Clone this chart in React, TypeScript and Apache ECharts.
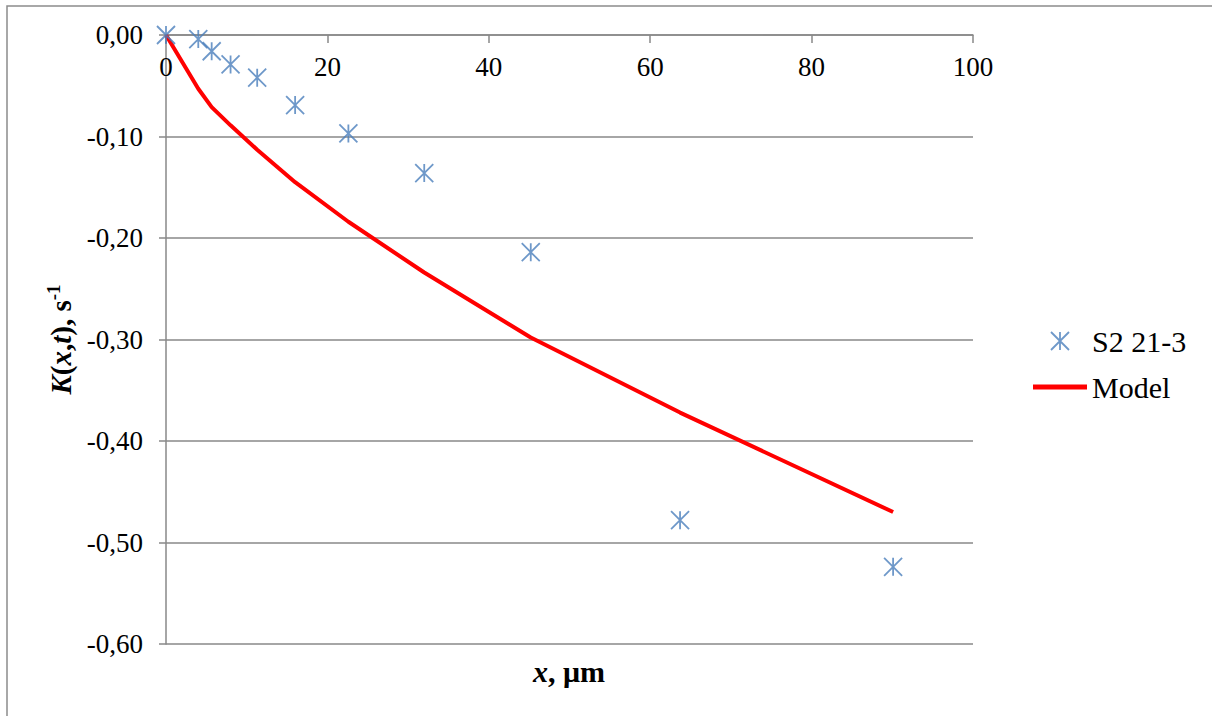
import React, { useEffect, useRef } from "react";
import * as echarts from "echarts";

const xValues = [0, 4, 5.66, 8, 11.3, 16, 22.6, 32, 45.2, 63.7, 90.1];
const measured = [0, -0.004, -0.016, -0.029, -0.042, -0.069, -0.097, -0.136, -0.214, -0.478, -0.524];
const model = [0, -0.053, -0.071, -0.089, -0.113, -0.145, -0.184, -0.234, -0.298, -0.372, -0.47];
const seriesNames = ["S2 21-3", "Model"];
const xTicks = { min: 0, max: 100, interval: 20 };
const yTicks = { min: -0.6, max: 0, interval: 0.1 };

const STAR = "path://M0,0 L18,18 M0,18 L18,0 M9,0 L9,18";
const LINE_ICON = "path://M0,0 L54,0 L54,5 L0,5 Z";
const FONT = "'Liberation Serif', 'Times New Roman', serif";

export default function App() {
  const ref = useRef<HTMLDivElement>(null);
  useEffect(() => {
    if (!ref.current) return;
    const chart = echarts.init(ref.current, null, { renderer: "svg" });
    const blue = "#4A7EBB";
    chart.setOption({
      animation: false,
      backgroundColor: "#fff",
      textStyle: { fontFamily: FONT },
      grid: { left: 166, top: 35, right: 239, bottom: 72, containLabel: false },
      xAxis: {
        type: "value",
        min: xTicks.min,
        max: xTicks.max,
        interval: xTicks.interval,
        position: "top",
        axisLine: { onZero: false, lineStyle: { color: "#888", width: 1.5 } },
        axisTick: { show: true, inside: true, length: 8, lineStyle: { color: "#888", width: 1.5 } },
        axisLabel: { inside: true, color: "#000", fontSize: 27, fontFamily: FONT, margin: 18 },
        splitLine: { show: false },
      },
      yAxis: {
        type: "value",
        min: yTicks.min,
        max: yTicks.max,
        interval: yTicks.interval,
        axisLine: { show: true, onZero: false, lineStyle: { color: "#888", width: 1.5 } },
        axisTick: { show: true, length: 7, lineStyle: { color: "#888", width: 1.5 } },
        axisLabel: {
          color: "#000",
          fontSize: 27,
          fontFamily: FONT,
          margin: 23,
          formatter: (v: number) => (Math.abs(v) < 1e-9 ? 0 : v).toFixed(2).replace(".", ","),
        },
        splitLine: { show: true, lineStyle: { color: "#888", width: 1.5 } },
        name: "{bi|K}{b|(}{bi|x}{b|,}{bi|t}{b|), s}{sup|-1}",
        nameLocation: "middle",
        nameGap: 84,
        nameRotate: 90,
        nameTextStyle: {
          color: "#000",
          fontFamily: FONT,
          rich: {
            bi: { fontSize: 29, fontWeight: "bold", fontStyle: "italic", fontFamily: FONT, color: "#000", lineHeight: 34 },
            b: { fontSize: 29, fontWeight: "bold", fontFamily: FONT, color: "#000", lineHeight: 34 },
            sup: { fontSize: 19, fontWeight: "bold", fontFamily: FONT, color: "#000", verticalAlign: "top", lineHeight: 34 },
          },
        },
      },
      legend: {
        orient: "vertical",
        left: 1033,
        top: 326,
        padding: 0,
        itemWidth: 54,
        itemHeight: 18,
        itemGap: 16,
        textStyle: { fontSize: 30, fontFamily: FONT, color: "#000" },
        data: [
          {
            name: seriesNames[0],
            icon: STAR,
            itemStyle: { color: "transparent", borderColor: blue, borderWidth: 1.8 },
          },
          {
            name: seriesNames[1],
            icon: LINE_ICON,
            itemStyle: { color: "#FF0000", borderWidth: 0 },
          },
        ],
      },
      graphic: [
        {
          type: "rect",
          shape: { x: 7, y: 6, width: 1300, height: 800 },
          style: { fill: "none", stroke: "#8c8c8c", lineWidth: 1.5 },
          silent: true,
        },
        {
          type: "text",
          x: 569,
          y: 671,
          style: {
            text: "{bi|x}{b|, μm}",
            align: "center",
            verticalAlign: "middle",
            rich: {
              bi: { fontSize: 30, fontWeight: "bold", fontStyle: "italic", fontFamily: FONT, fill: "#000" },
              b: { fontSize: 30, fontWeight: "bold", fontFamily: FONT, fill: "#000" },
            },
          },
        },
      ],
      series: [
        {
          name: seriesNames[0],
          type: "scatter",
          data: xValues.map((x, i) => [x, measured[i]]),
          symbol: STAR,
          symbolSize: 18,
          itemStyle: { color: "transparent", borderColor: blue, borderWidth: 1.8 },
          z: 3,
        },
        {
          name: seriesNames[1],
          type: "line",
          data: xValues.map((x, i) => [x, model[i]]),
          symbol: "none",
          showSymbol: false,
          lineStyle: { color: "#FF0000", width: 4 },
          itemStyle: { color: "#FF0000" },
          z: 2,
        },
      ],
    });
    return () => chart.dispose();
  }, []);
  return (
    <div
      ref={ref}
      style={{ position: "fixed", left: 0, top: 0, width: 1212, height: 716 }}
    />
  );
}
